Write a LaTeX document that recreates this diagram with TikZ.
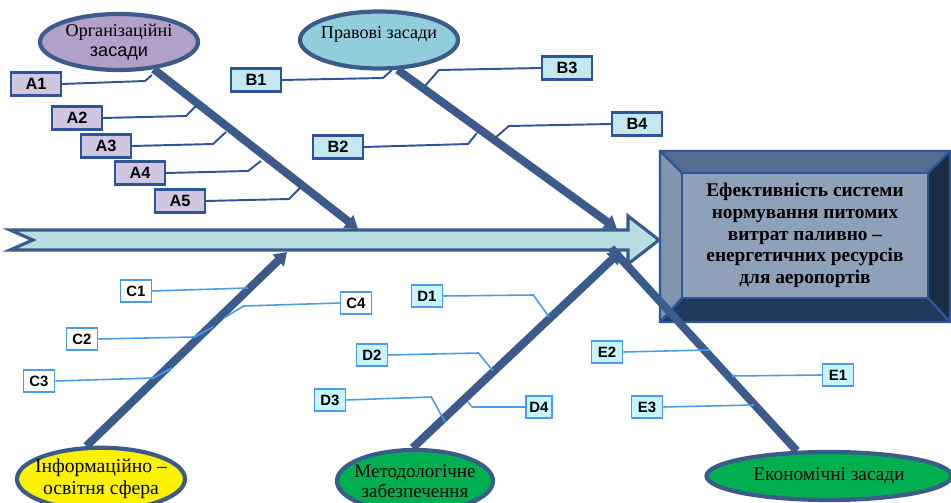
\documentclass[tikz,border=0pt]{standalone}
\usepackage{fontspec}
\setmainfont{Liberation Serif}
\setsansfont{Liberation Sans}
\usetikzlibrary{shapes.geometric,arrows.meta}

\definecolor{bonec}{HTML}{3B5C8A}
\definecolor{linkdark}{HTML}{2E5597}
\definecolor{linklight}{HTML}{4A9AEE}
\definecolor{spinefill}{HTML}{B7DFE2}
\definecolor{lilacell}{HTML}{B1A0C7}
\definecolor{blueell}{HTML}{92CDDC}
\definecolor{greenell}{HTML}{00B050}
\definecolor{lilac}{HTML}{D0C6E2}
\definecolor{paleblue}{HTML}{C3E8F2}
\definecolor{cyanpale}{HTML}{C6F6FC}
\definecolor{frametop}{HTML}{526D8F}
\definecolor{frameleft}{HTML}{8195B0}
\definecolor{frameright}{HTML}{1C2C45}
\definecolor{framebottom}{HTML}{203A5E}
\definecolor{frameinner}{HTML}{8FA1B8}

\begin{document}
\begin{tikzpicture}[x=0.02cm,y=-0.02cm,
  bone/.style={draw=bonec,line width=4.6pt},
  cause/.style={ellipse,draw=bonec,line width=2.4pt,inner sep=-6pt,align=center},
  labA/.style={draw=linkdark,line width=1.2pt,fill=lilac,inner sep=0pt,
    font=\sffamily\bfseries\fontsize{9.3}{9.3}\selectfont,minimum width=1cm,minimum height=0.46cm},
  labB/.style={labA,fill=paleblue},
  labC/.style={draw=linklight,line width=1pt,fill=white,inner sep=0pt,
    font=\sffamily\bfseries\fontsize{8.5}{8.5}\selectfont,minimum width=0.62cm,minimum height=0.45cm},
  labD/.style={labC,fill=cyanpale},
  linkA/.style={draw=linkdark,line width=1.1pt},
  linkC/.style={draw=linklight,line width=0.9pt},
  tipc/.style={-{Triangle[length=7pt,width=9pt]}}]
\useasboundingbox (0,0) rectangle (951,503);

% Result frame
\fill[frametop] (660,151) -- (950,151) -- (928,173) -- (682,173) -- cycle;
\fill[frameleft] (660,151) -- (682,173) -- (682,298) -- (660,322) -- cycle;
\fill[frameright] (950,151) -- (950,322) -- (928,298) -- (928,173) -- cycle;
\fill[framebottom] (660,322) -- (950,322) -- (928,298) -- (682,298) -- cycle;
\draw[linkdark,line width=1.4pt] (660,151) rectangle (950,322)
  (660,151) -- (682,173) (950,151) -- (928,173) (660,322) -- (682,298) (950,322) -- (928,298);
\node[draw=linkdark,line width=1.4pt,fill=frameinner,minimum width=4.92cm,minimum height=2.5cm,
  align=center,font=\bfseries\fontsize{11}{12.3}\selectfont] (goal) at (805,235.5)
  {Ефективність системи\\нормування питомих\\витрат паливно –\\енергетичних ресурсів\\для аеропортів};

% Spine
\draw[draw=bonec,fill=spinefill,line width=1.8pt] (10,230) -- (628,230) -- (628,216) -- (659,240)
  -- (628,264) -- (628,250) -- (10,250) -- (33,240) -- cycle;

% Causes
\node[cause,fill=lilacell,minimum width=3.16cm,minimum height=1.12cm,font=\fontsize{10.3}{11.5}\selectfont]
  (orgA) at (119,42) {Організаційні\\{\sffamily засади}};
\node[cause,fill=blueell,minimum width=3.16cm,minimum height=1.14cm,font=\fontsize{10.3}{12}\selectfont]
  (pravB) at (379,40) {\raisebox{0.02cm}[0pt][0pt]{Правові засади}};
\node[cause,fill=yellow,minimum width=3.36cm,minimum height=1.25cm,font=\fontsize{11.2}{12.3}\selectfont]
  (infoC) at (101,479) {Інформаційно –\\освітня сфера};
\node[cause,fill=greenell,minimum width=3.12cm,minimum height=1.24cm,font=\fontsize{10.8}{11.5}\selectfont]
  (metD) at (415,481) {Методологічне\\забезпечення};
\node[cause,fill=greenell,minimum width=4.9cm,minimum height=0.96cm,font=\fontsize{11}{12}\selectfont]
  (econE) at (829,476) {Економічні засади};

% Bones
\coordinate (tipA) at (358,229);
\coordinate (tipB) at (617,229);
\coordinate (tipC) at (287,252);
\coordinate (tipD) at (621,251);
\coordinate (rootE) at (611,248);
\draw[bone,tipc] (orgA) -- (tipA);
\draw[bone,tipc] (pravB.302) -- (tipB);
\draw[bone,tipc] (infoC.114) -- (tipC);
\draw[bone,tipc] (metD.94) -- (tipD);
\draw[bone] (rootE) -- (econE.142);

% Labels
\node[labA] (a1) at (36,84) {A1};
\node[labA] (a2) at (77,118) {A2};
\node[labA] (a3) at (106,146) {A3};
\node[labA] (a4) at (140,173) {A4};
\node[labA] (a5) at (180,201) {A5};
\node[labB] (b1) at (256,80) {B1};
\node[labB] (b2) at (338,147) {B2};
\node[labB] (b3) at (567,68) {B3};
\node[labB] (b4) at (637,124) {B4};
\node[labC] (c1) at (136,291) {C1};
\node[labC] (c2) at (82,339) {C2};
\node[labC] (c3) at (39,381) {C3};
\node[labC] (c4) at (356,303) {C4};
\node[labD] (d1) at (427,296) {D1};
\node[labD] (d2) at (372,355) {D2};
\node[labD] (d3) at (330,400) {D3};
\node[labD,minimum width=0.52cm] (d4) at (539,407) {D4};
\node[labD] (e1) at (838,375) {E1};
\node[labD] (e2) at (607,352) {E2};
\node[labD] (e3) at (647,407) {E3};

% Links
\coordinate (a1e) at (152,75);
\coordinate (a2e) at (197,105);
\coordinate (a3e) at (226,132);
\coordinate (a4e) at (261,161);
\coordinate (a5e) at (301,187);
\coordinate (b1e) at (392,70);
\coordinate (b2e) at (477,133);
\coordinate (b3e) at (425,86);
\coordinate (b4e) at (495,138);
\coordinate (c1e) at (248,288);
\coordinate (c2e) at (213,327);
\coordinate (c3e) at (172,368);
\coordinate (c4e) at (224,318);
\coordinate (d1e) at (549,317);
\coordinate (d2e) at (493,371);
\coordinate (d3e) at (445,422);
\coordinate (d4e) at (468,402);
\coordinate (e1e) at (732,376);
\coordinate (e2e) at (709,350);
\coordinate (e3e) at (754,405);
\draw[linkA] (a1.east) -- ++(83,-3) -- (a1e);
\draw[linkA] (a2.east) -- ++(83,-2) -- (a2e);
\draw[linkA] (a3.east) -- ++(81,-2) -- (a3e);
\draw[linkA] (a4.east) -- ++(82,-2) -- (a4e);
\draw[linkA] (a5.east) -- ++(83,-2) -- (a5e);
\draw[linkA] (b1.east) -- ++(101,-2) -- (b1e);
\draw[linkA] (b2.east) -- ++(104,-3) -- (b2e);
\draw[linkA] (b3.west) -- ++(-102,2) -- (b3e);
\draw[linkA] (b4.west) -- ++(-102,2) -- (b4e);
\draw[linkC] (c1.east) -- (c1e);
\draw[linkC] (c2.east) -- ++(96,-2) -- (c2e);
\draw[linkC] (c3.east) -- ++(98,-3) -- (c3e);
\draw[linkC] (c4.west) -- ++(-96,3) -- (c4e);
\draw[linkC] (d1.east) -- ++(90,-1) -- (d1e);
\draw[linkC] (d2.east) -- ++(90,-2) -- (d2e);
\draw[linkC] (d3.east) -- ++(85,-3) -- (d3e);
\draw[linkC] (d4.west) -- ++(-53,0) -- (d4e);
\draw[linkC] (e1.west) -- (e1e);
\draw[linkC] (e2.east) -- (e2e);
\draw[linkC] (e3.east) -- (e3e);
\end{tikzpicture}
\end{document}
